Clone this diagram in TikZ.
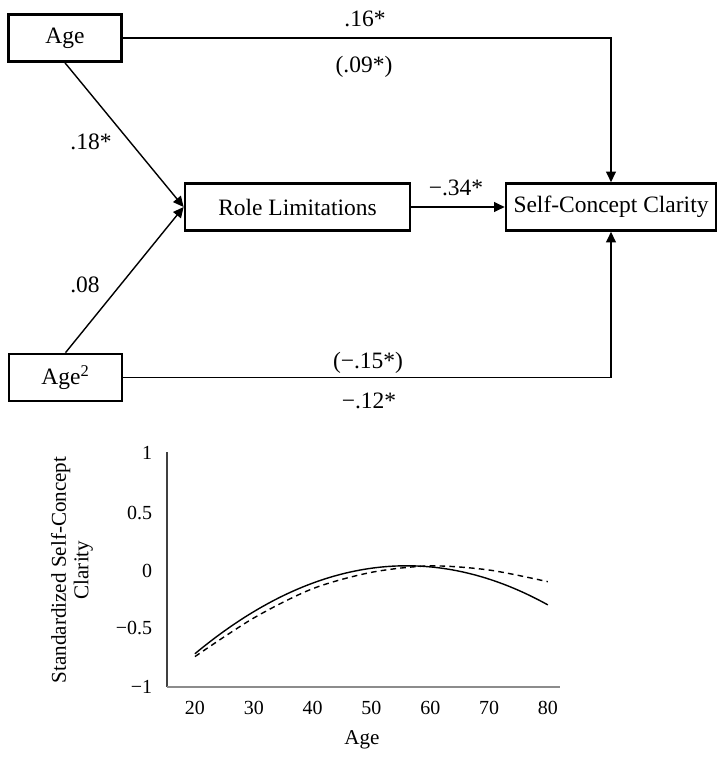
\documentclass[tikz,border=0pt]{standalone}
\usepackage{fontspec}
\setmainfont{Liberation Serif}
\usetikzlibrary{arrows.meta}

\begin{document}
\begin{tikzpicture}[x=0.025cm, y=-0.025cm,
  varbox/.style={draw, line width=1.9pt, minimum height=1.175cm, inner sep=0pt, font=\fontsize{16.7}{20}\selectfont},
  effect/.style={-{Triangle[length=7.5pt,width=7pt]}, line width=1pt},
  coef/.style={font=\fontsize{16.7}{20}\selectfont},
  ticklab/.style={font=\fontsize{14.2}{17}\selectfont}]
  \useasboundingbox (0,0) rectangle (725,762);

  % Variables
  \node[varbox, minimum width=2.825cm] (age) at (65,38) {Age};
  \node[varbox, minimum width=2.825cm] (agesq) at (65.5,377.5) {Age\textsuperscript{2}};
  \node[varbox, minimum width=5.625cm] (rolelim) at (297.5,207) {Role Limitations};
  \node[varbox, minimum width=5.25cm] (scc) at (611,207) {Self-Concept Clarity};

  % Paths
  \draw[effect] (age.south) -- (rolelim.west);
  \draw[effect] (agesq.north) -- (rolelim.west);
  \draw[effect] (rolelim) -- (scc);
  \draw[effect] (age.east) -| (scc.north);
  \draw[effect] (agesq.east) -| (scc.south);

  % Coefficients
  \node[coef] (c1) at (365,19) {.16*};
  \node[coef] (c2) at (364,67) {(.09*)};
  \node[coef] (c3) at (91,142) {.18*};
  \node[coef] (c4) at (85,285) {.08};
  \node[coef] (c5) at (456,188) {−.34*};
  \node[coef] (c6) at (368,363) {(−.15*)};
  \node[coef] (c7) at (369,401) {−.12*};

  % Chart
  \draw[line width=1pt, black!75] (167,452) -- (167,687);
  \draw[line width=1.5pt, black!45] (167,687) -- (560,687);
  \foreach \v/\lab/\py in {1/1/453, 0.5/0.5/513, 0/0/571, -0.5/−0.5/628, -1/−1/687}
    \node[ticklab, anchor=east] (ytick\py) at (157,\py) {\lab};
  \foreach \a in {20,30,...,80}
    \node[ticklab] (xtick\a) at ({77.3+5.883*\a},708) {\a};
  \node[font=\fontsize{15}{18}\selectfont] (xlab) at (362,740) {Age};
  \node[font=\fontsize{15}{16}\selectfont, rotate=90, align=center] (ylab) at (72,570)
    {Standardized Self-Concept\\Clarity};

  \begin{scope}[shift={(77.3,570)}, x=0.147cm, y=2.925cm]
    \draw[line width=1pt] plot[domain=20:80, samples=60, smooth] (\x, {0.036-0.000583*(\x-56)^2});
    \draw[line width=1pt, dash pattern=on 4pt off 3pt] plot[smooth] coordinates
      {(20,-0.74) (30,-0.41) (40,-0.16) (50,-0.02) (60,0.035) (70,0.0) (80,-0.10)};
  \end{scope}
\end{tikzpicture}
\end{document}
